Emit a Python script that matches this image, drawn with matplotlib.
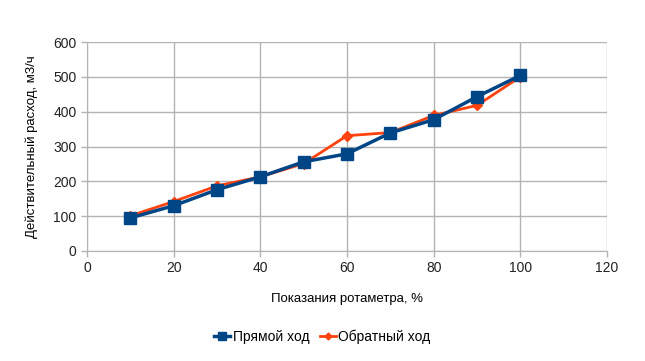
import numpy as np
import matplotlib
matplotlib.use("Agg")
import matplotlib.pyplot as plt

plt.rcParams['font.family'] = ['Liberation Sans', 'DejaVu Sans']

rotameter = [10, 20, 30, 40, 50, 60, 70, 80, 90, 100]
forward = [95, 130, 176, 213, 256, 279, 339, 377, 443, 504]
backward = [101, 142, 187, 213, 251, 331, 340, 389, 418, 500]

x_ticks = [0, 20, 40, 60, 80, 100, 120]
y_ticks = [0, 100, 200, 300, 400, 500, 600]

grid_col = '#b3b3b3'

fig = plt.figure(figsize=(6.45, 3.61), dpi=100)
ax = fig.add_axes([87/645, 1 - 251/361, (607-87)/645, (251-42)/361])

ax.plot(rotameter, forward, color='#004586', lw=2.5, marker='s', ms=8,
        label='Прямой ход', zorder=3)
ax.plot(rotameter, backward, color='#ff420e', lw=2.0, marker='D', ms=5,
        label='Обратный ход', zorder=2)
ax.set_xlim(0, 120)
ax.set_ylim(0, 600)
ax.set_xticks(x_ticks)
ax.set_yticks(y_ticks)
ax.grid(True, color=grid_col, lw=1)
ax.set_axisbelow(True)
for s in ['top', 'right']:
    ax.spines[s].set_visible(False)
for s in ['left', 'bottom']:
    ax.spines[s].set_color(grid_col)
ax.tick_params(colors='#222222', labelsize=10, length=4, width=1)
ax.tick_params(axis='both', color=grid_col)

ax.set_xlabel('Показания ротаметра, %', fontsize=9.5, labelpad=13)
ax.set_ylabel('Действительный расход, м3/ч', fontsize=9.5, labelpad=11)

fig.legend(loc='center', bbox_to_anchor=(0.5, 1 - 337/361), ncol=2, frameon=False,
           fontsize=10, handlelength=1.1, columnspacing=0.8, handletextpad=0.2,
           markerscale=0.7)

fig.savefig('out.png', dpi=100)
